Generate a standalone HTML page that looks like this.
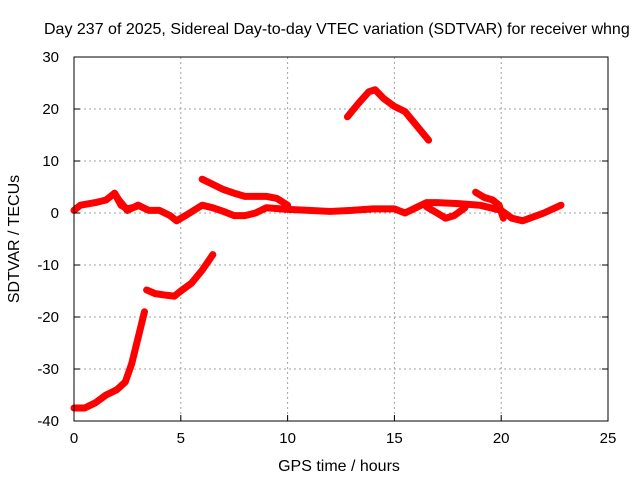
<!DOCTYPE html>
<html><head><meta charset="utf-8"><style>
body{margin:0;background:#fff;}
svg text{font-family:"Liberation Sans",sans-serif;font-size:15px;fill:#000;}
svg text.big{font-size:16px;}
</style></head><body>
<svg id="c" width="640" height="480" xmlns="http://www.w3.org/2000/svg">
<rect width="640" height="480" fill="#fff"/>
<text class="big" x="44" y="34">Day 237 of 2025, Sidereal Day-to-day VTEC variation (SDTVAR) for receiver whng</text>
<g id="grid"></g>
<g id="series"></g>
<rect x="74" y="57" width="534" height="364" fill="none" stroke="#000" stroke-width="1"/>
<g id="ticks"></g>
<text class="big" x="339" y="471" text-anchor="middle">GPS time / hours</text>
<text class="big" transform="translate(19,239) rotate(-90)" text-anchor="middle">SDTVAR / TECUs</text>
</svg>
<script>
const xTicks=[0,5,10,15,20,25];
const yTicks=[-40,-30,-20,-10,0,10,20,30];
const seriesLow=[[0,-37.5],[0.5,-37.5],[1,-36.5],[1.5,-35],[2,-34],[2.4,-32.5],[2.7,-29],[3,-24],[3.3,-19]];
const seriesMid=[[3.4,-14.8],[3.8,-15.5],[4.3,-15.8],[4.7,-16],[5,-15],[5.5,-13.5],[6,-11],[6.5,-8]];
const seriesUpper=[[6,6.5],[6.5,5.5],[7,4.5],[7.5,3.8],[8,3.2],[9,3.2],[9.5,2.8],[10,1.5]];
const seriesHigh=[[12.8,18.5],[13.3,21],[13.8,23.3],[14.1,23.7],[14.5,22],[15,20.5],[15.5,19.5],[16,17],[16.6,14]];
const seriesMain=[[0,0.5],[0.3,1.5],[1,2],[1.5,2.5],[1.9,3.8],[2.1,2.5],[2.5,0.5],[3,1.5],[3.5,0.5],[4,0.5],[4.5,-0.5],[4.8,-1.5],[5.3,-0.3],[6,1.5],[6.5,1],[7,0.3],[7.5,-0.5],[8,-0.5],[8.5,0],[9,1],[10,0.7],[11,0.5],[12,0.3],[13,0.5],[14,0.8],[15,0.8],[15.5,0],[16,1],[16.5,2],[17,2],[18,1.8],[19,1.5],[20,0.5],[20.5,-1],[21,-1.5],[22,0],[22.8,1.5]];
const seriesBranchA=[[16.5,1.2],[17,0],[17.4,-1],[17.8,-0.5],[18.3,1]];
const seriesBranchB=[[18.8,4],[19.2,3],[19.6,2.5],[19.9,1.5],[20.1,-1]];
const seriesBranchC=[[1.9,3.8],[2.2,1.5],[2.5,0.8],[2.9,1.2]];
const allSeries=[["series-low",seriesLow],["series-mid",seriesMid],["series-upper",seriesUpper],["series-high",seriesHigh],["series-main",seriesMain],["series-branch-a",seriesBranchA],["series-branch-b",seriesBranchB],["series-branch-c",seriesBranchC]];
const NS="http://www.w3.org/2000/svg";
const X0=74,X1=608,Y0=421,Y1=57,xMin=0,xMax=25,yMin=-40,yMax=30;
function sx(v){return X0+(v-xMin)/(xMax-xMin)*(X1-X0);}
function sy(v){return Y0-(v-yMin)/(yMax-yMin)*(Y0-Y1);}
const grid=document.getElementById('grid'),ticks=document.getElementById('ticks'),ser=document.getElementById('series');
function mk(t,a,p){const e=document.createElementNS(NS,t);for(const k in a)e.setAttribute(k,a[k]);p.appendChild(e);return e;}
xTicks.forEach(v=>{
 const x=sx(v);
 if(v>xMin&&v<xMax){const g=mk('line',{x1:x,y1:Y1,x2:x,y2:Y0,stroke:'#a0a0a0','stroke-dasharray':'2,3'},grid);
 
 }
 const t=mk('line',{x1:x,y1:Y0,x2:x,y2:Y0-6,stroke:'#000'},ticks);
 
 
 const l=mk('text',{x:x,y:Y0+22,'text-anchor':'middle'},ticks);l.textContent=v;
 
 
});
yTicks.forEach(v=>{
 const y=sy(v);
 if(v>yMin&&v<yMax){const g=mk('line',{x1:X0,y1:y,x2:X1,y2:y,stroke:'#a0a0a0','stroke-dasharray':'2,3'},grid);
 
 }
 const t=mk('line',{x1:X0,y1:y,x2:X0+6,y2:y,stroke:'#000'},ticks);
 
 
 const t2=mk('line',{x1:X1,y1:y,x2:X1-6,y2:y,stroke:'#000'},ticks);
 
 
 const l=mk('text',{x:X0-15,y:y+5,'text-anchor':'end'},ticks);l.textContent=v;
 
 
});
allSeries.forEach(([n,d])=>{
 const p=mk('polyline',{points:d.map(q=>sx(q[0])+','+sy(q[1])).join(' '),fill:'none',stroke:'#ff0000','stroke-width':7,'stroke-linejoin':'round','stroke-linecap':'round'},ser);
 
 
});
</script>
</body></html>
